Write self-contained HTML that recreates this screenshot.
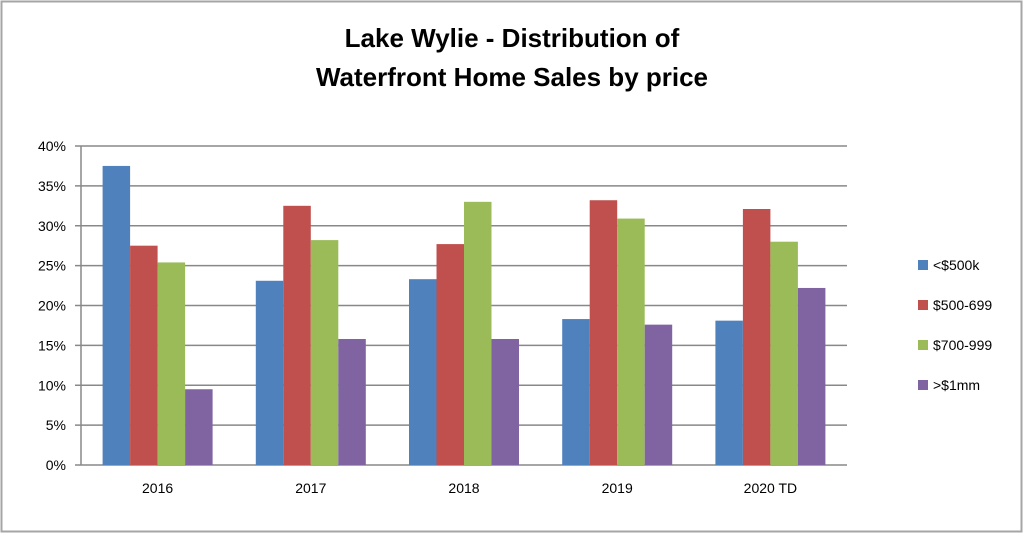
<!DOCTYPE html>
<html><head><meta charset="utf-8"><style>
html,body{margin:0;padding:0;background:#fff;}
svg{display:block;font-family:"Liberation Sans",sans-serif;}
</style></head><body>
<svg id="chart" width="1024" height="534" viewBox="0 0 1024 534">
<rect x="1.5" y="1.5" width="1020" height="530" fill="#fff" stroke="#a6a6a6" stroke-width="2"/>
<text x="512" y="47" text-anchor="middle" font-size="26" font-weight="bold" fill="#000">Lake Wylie - Distribution of</text>
<text x="512" y="86" text-anchor="middle" font-size="26" font-weight="bold" fill="#000">Waterfront Home Sales by price</text>
<g id="grid"></g>
<g id="bars"></g>
<g id="axes"></g>
<g id="legend"></g>
</svg>
<script>
const categories = ["2016","2017","2018","2019","2020 TD"];
const seriesNames = ["<$500k","$500-699","$700-999",">$1mm"];
const under500 = [37.5,23.1,23.3,18.3,18.1];
const s500to699 = [27.5,32.5,27.7,33.2,32.1];
const s700to999 = [25.4,28.2,33.0,30.9,28.0];
const over1mm = [9.5,15.8,15.8,17.6,22.2];
const yTicks = [0,5,10,15,20,25,30,35,40];
const colors = ["#4f81bd","#c0504d","#9bbb59","#8064a2"];
const series = [under500,s500to699,s700to999,over1mm];
const NS="http://www.w3.org/2000/svg";
const L=81,R=847,T=146,B=465;
const y=v=>B-(v/40)*(B-T);
const gw=(R-L)/categories.length, bw=27.5;
function mk(tag,attrs,parent){const e=document.createElementNS(NS,tag);for(const k in attrs)e.setAttribute(k,attrs[k]);parent.appendChild(e);return e;}
const grid=document.getElementById('grid'),bars=document.getElementById('bars'),axes=document.getElementById('axes'),leg=document.getElementById('legend');
yTicks.forEach(t=>{
  const ln=mk('line',{x1:75,x2:R,y1:y(t),y2:y(t),stroke:'#888','stroke-width':1.5},grid);
  
  
  const tx=mk('text',{x:66,y:y(t)+5,'text-anchor':'end','font-size':14,fill:'#000'},axes);
  tx.textContent=t+'%';
  
  
});
const ya=mk('line',{x1:L,x2:L,y1:T,y2:B,stroke:'#888','stroke-width':1.5},axes);


categories.forEach((c,i)=>{
  const cx=L+gw*(i+0.5);
  series.forEach((s,j)=>{
    const x=cx-2*bw+j*bw;
    const r=mk('rect',{x:x,y:y(s[i]),width:bw,height:B-y(s[i]),fill:colors[j]},bars);
    
    
  });
  const tx=mk('text',{x:cx,y:B+28,'text-anchor':'middle','font-size':14,fill:'#000'},axes);
  tx.textContent=c;
  
  
});
seriesNames.forEach((n,j)=>{
  const cy=265+j*40;
  const r=mk('rect',{x:918,y:cy-5,width:10,height:10,fill:colors[j]},leg);
  
  
  const tx=mk('text',{x:933,y:cy+5,'font-size':14,fill:'#000'},leg);
  tx.textContent=n;
  
  
});
</script>
</body></html>
